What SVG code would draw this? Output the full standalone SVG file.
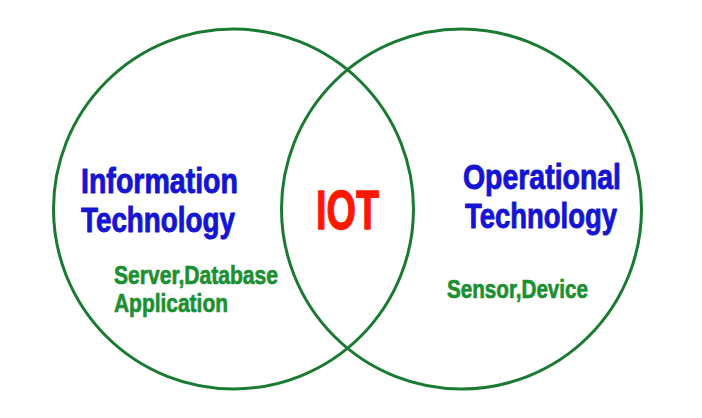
<svg xmlns="http://www.w3.org/2000/svg" width="702" height="418" viewBox="0 0 702 418">
  <style>
    .ring { fill: none; stroke: #1b7a32; stroke-width: 3; }
    .lbl { font-family: "Liberation Sans Narrow", "Liberation Sans", "DejaVu Sans Condensed", sans-serif; font-weight: bold; stroke-linejoin: round; }
    .title { fill: #1414d2; stroke: #1414d2; stroke-width: 0.9; font-size: 35px; }
    .core { fill: #ff1800; stroke: #ff1800; stroke-width: 1.4; font-size: 56px; }
    .items { fill: #1c8f32; stroke: #1c8f32; stroke-width: 0.7; font-size: 26px; }
  </style>
  <rect width="702" height="418" fill="#ffffff"/>

  <!-- Information Technology set -->
  <g id="it">
    <circle class="ring" cx="233.5" cy="209" r="180"/>
    <text class="lbl title" x="81" y="193" textLength="157" lengthAdjust="spacingAndGlyphs">Information</text>
    <text class="lbl title" x="81" y="232" textLength="154" lengthAdjust="spacingAndGlyphs">Technology</text>
    <text class="lbl items" x="114" y="284" textLength="164" lengthAdjust="spacingAndGlyphs">Server,Database</text>
    <text class="lbl items" x="114" y="312" textLength="114" lengthAdjust="spacingAndGlyphs">Application</text>
  </g>

  <!-- Operational Technology set -->
  <g id="ot">
    <circle class="ring" cx="461.5" cy="209" r="180"/>
    <text class="lbl title" x="463" y="189" textLength="158" lengthAdjust="spacingAndGlyphs">Operational</text>
    <text class="lbl title" x="465" y="228" textLength="152" lengthAdjust="spacingAndGlyphs">Technology</text>
    <text class="lbl items" x="447" y="298" textLength="141" lengthAdjust="spacingAndGlyphs">Sensor,Device</text>
  </g>

  <!-- Overlap label -->
  <g id="iot">
    <text class="lbl core" x="316" y="229" textLength="63" lengthAdjust="spacingAndGlyphs">IOT</text>
  </g>
</svg>
